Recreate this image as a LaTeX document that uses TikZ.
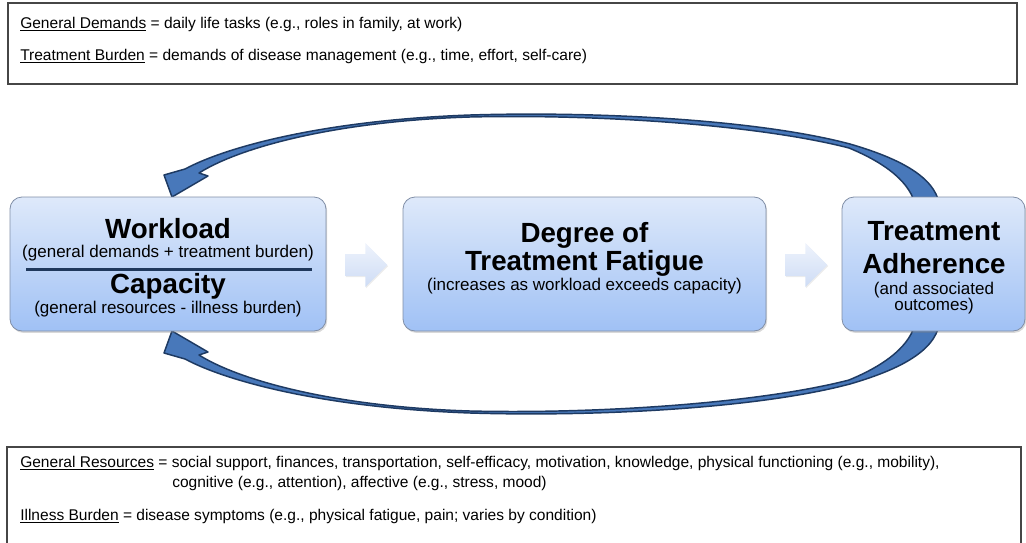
\documentclass[tikz,border=0pt]{standalone}
\usepackage{fontspec}
\setmainfont{Liberation Sans}
\usetikzlibrary{shadows}

\definecolor{boxtop}{RGB}{222,233,250}
\definecolor{boxbot}{RGB}{160,193,245}
\definecolor{boxline}{RGB}{128,142,166}
\definecolor{loopfill}{RGB}{72,120,186}
\definecolor{loopline}{RGB}{30,58,98}
\definecolor{navy}{RGB}{31,56,92}
\definecolor{legline}{RGB}{70,70,70}
\definecolor{hinttop}{RGB}{238,243,252}
\definecolor{hintbot}{RGB}{206,220,245}

\begin{document}
\begin{tikzpicture}[x=0.75pt, y=-0.75pt,
  stage/.style={rounded corners=9pt, draw=boxline, line width=0.6pt,
    top color=boxtop, bottom color=boxbot, inner sep=0pt,
    drop shadow={shadow xshift=0.9pt, shadow yshift=-1.4pt, opacity=0.3}},
  title/.style={anchor=base, inner sep=0pt, font=\fontsize{20.8}{25}\selectfont\bfseries},
  sub/.style={anchor=base, inner sep=0pt, font=\fontsize{12.75}{15}\selectfont},
  legend/.style={anchor=base west, inner sep=0pt, font=\fontsize{11.65}{14}\selectfont},
  loop/.style={fill=loopfill, draw=loopline, line width=1.1pt, line join=round},
  hint/.style={top color=hinttop, bottom color=hintbot,
    drop shadow={shadow xshift=0.6pt, shadow yshift=-0.9pt, opacity=0.15}}]

\useasboundingbox (0,0) rectangle (1026,543);

% definitions, top
\draw[legline, line width=0.8pt] (8,3) rectangle (1017,84);
\node[legend] (dem) at (20,28) {\underline{General Demands} = daily life tasks (e.g., roles in family, at work)};
\node[legend] (burd) at (20,60) {\underline{Treatment Burden} = demands of disease management (e.g., time, effort, self-care)};

% feedback loops (lower one is the mirror image)
\foreach \flip in {1,-1} {
  \begin{scope}[shift={(0,{264*(1-\flip)})}, yscale=\flip]
    \draw[loop] (172,197) -- (164,175) -- (185,169)
      .. controls (230,145) and (330,120) .. (470,115)
      .. controls (600,111) and (760,120) .. (850,144)
      .. controls (905,160) and (939,180) .. (940,210)
      -- (916,210)
      .. controls (914,189) and (895,167) .. (849,148)
      .. controls (760,125) and (600,114) .. (470,117)
      .. controls (340,121) and (242,146) .. (199,173)
      -- (208,176) -- cycle;
  \end{scope}
}

% stages
\node[stage, minimum width=237pt, minimum height=100.5pt] (wbox) at (168,264) {};
\node[stage, minimum width=272.25pt, minimum height=100.5pt] (fbox) at (584.5,264) {};
\node[stage, minimum width=137.25pt, minimum height=100.5pt] (abox) at (933.5,264) {};

\node[title] (wl) at (168,238) {Workload};
\node[sub] (wlsub) at (168,257) {(general demands + treatment burden)};
\draw[navy, line width=2.25pt] (26,269) -- (312,269);
\node[title] (cap) at (168,293) {Capacity};
\node[sub] (capsub) at (168,313) {(general resources - illness burden)};

\node[title] (deg) at (584.5,242) {Degree of};
\node[title] (fat) at (584.5,270) {Treatment Fatigue};
\node[sub] (fatsub) at (584.5,290) {(increases as workload exceeds capacity)};

\node[title] (adh1) at (934,240) {Treatment};
\node[title] (adh2) at (934,273) {Adherence};
\node[sub] (adhsub1) at (934,294) {(and associated};
\node[sub] (adhsub2) at (934,310) {outcomes)};

% block arrows between stages
\foreach \src in {wbox,fbox}
  \path[hint] (\src.east) ++(19,-10) -- ++(20,0) -- ++(0,-11) -- ++(22,22)
    -- ++(-22,22) -- ++(0,-11) -- ++(-20,0) -- cycle;

% definitions, bottom
\draw[legline, line width=0.8pt] (7,550) -- (7,447) -- (1021,447) -- (1021,550);
\node[legend] (res) at (20,467) {\underline{General Resources} = social support, finances, transportation, self-efficacy, motivation, knowledge, physical functioning (e.g., mobility),};
\node[legend] (res2) at (172,487) {cognitive (e.g., attention), affective (e.g., stress, mood)};
\node[legend] (ill) at (20,520) {\underline{Illness Burden} = disease symptoms (e.g., physical fatigue, pain; varies by condition)};

\end{tikzpicture}
\end{document}
